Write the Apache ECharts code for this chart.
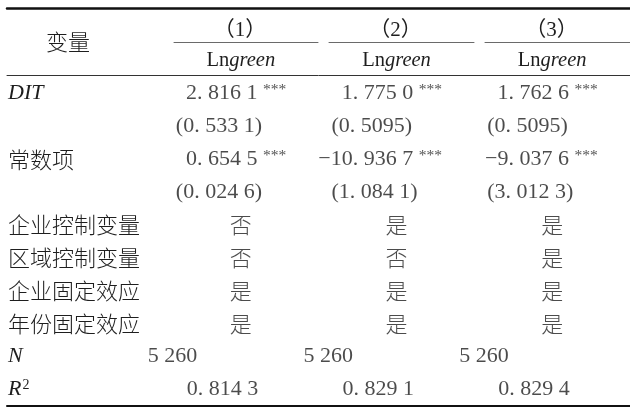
<!DOCTYPE html>
<html>
<head>
<meta charset="utf-8">
<script src="https://cdn.jsdelivr.net/npm/echarts@6/dist/echarts.min.js"></script>
<style>
html,body{margin:0;padding:0;background:#fff;}
#chart{width:630px;height:408px;}
</style>
</head>
<body>
<div id="chart"></div>
<script>
// ---- data ----
const headerLabel = '变量';
const columns = ['（1）', '（2）', '（3）'];
const depVar = ['Lngreen', 'Lngreen', 'Lngreen'];
const rowLabels = ['DIT', '', '常数项', '', '企业控制变量', '区域控制变量', '企业固定效应', '年份固定效应', 'N', 'R2'];
const rowKinds = ['coef', 'se', 'coef', 'se', 'yn', 'yn', 'yn', 'yn', 'n', 'r2'];
const ditCoef = ['2. 816 1', '1. 775 0', '1. 762 6'];
const ditStars = ['***', '***', '***'];
const ditSE = ['0. 533 1', '0. 5095', '0. 5095'];
const constCoef = ['0. 654 5', '−10. 936 7', '−9. 037 6'];
const constStars = ['***', '***', '***'];
const constSE = ['0. 024 6', '1. 084 1', '3. 012 3'];
const firmControls = ['否', '是', '是'];
const regionControls = ['否', '否', '是'];
const firmFE = ['是', '是', '是'];
const yearFE = ['是', '是', '是'];
const nObs = ['5 260', '5 260', '5 260'];
const rSquared = ['0. 814 3', '0. 829 1', '0. 829 4'];

// ---- build ----
const rowValues = [ditCoef, ditSE, constCoef, constSE, firmControls, regionControls, firmFE, yearFE, nObs, rSquared];
const rowStars = {0: ditStars, 2: constStars};
const rowIdx = rowLabels.map((_, i) => String(i));
const colIdx = columns.map((_, i) => String(i));

const SERIF = '"Liberation Serif", "Noto Sans CJK SC", serif';
const INK = '#1e1e1e';
const NUM = 22;
const CJK = 22;

const rich = {
  n: {fontFamily: SERIF, fontSize: NUM, color: INK},
  s: {fontFamily: SERIF, fontSize: 15.5, color: INK, verticalAlign: 'top', lineHeight: 13},
  c: {fontFamily: '"Noto Sans CJK SC", sans-serif', fontSize: CJK, color: INK, fontWeight: 300},
  it: {fontFamily: SERIF, fontSize: NUM, fontStyle: 'italic', color: INK},
  up: {fontFamily: SERIF, fontSize: 20.5, color: INK},
  itg: {fontFamily: SERIF, fontSize: 20.5, fontStyle: 'italic', color: INK},
  sup: {fontFamily: SERIF, fontSize: 14, color: INK, verticalAlign: 'top', lineHeight: 12, padding: [0, 0, 0, 1]}
};

const kindStyle = {
  coef: {align: 'right', offset: [45.5, 0]},
  se: {align: 'left', offset: [-65, 0]},
  yn: {align: 'center', offset: [0, 0]},
  n: {align: 'left', offset: [-93, 0]},
  r2: {align: 'left', offset: [-54, 0]}
};

function cellText(r, c) {
  const kind = rowKinds[r];
  const v = rowValues[r][c];
  if (kind === 'coef') return '{n|' + v + '} {s|' + rowStars[r][c] + '}';
  if (kind === 'se') return '{n|(' + v + ')}';
  if (kind === 'yn') return '{c|' + v + '}';
  return '{n|' + v + '}';
}

const seriesData = [];
rowValues.forEach((vals, r) => {
  vals.forEach((v, c) => {
    const st = kindStyle[rowKinds[r]];
    seriesData.push({
      value: [c, r],
      label: {align: st.align, offset: st.offset, formatter: cellText(r, c)}
    });
  });
});

function rowLabelText(i) {
  const t = rowLabels[i];
  if (t === 'DIT' || t === 'N') return '{it|' + t + '}';
  if (t === 'R2') return '{it|R}{sup|2}';
  return '{c|' + t + '}';
}

const hidden = {show: false};
const colGrids = [
  {left: 174, width: 144, top: 42, height: 33},
  {left: 329, width: 145, top: 42, height: 33},
  {left: 485, right: 0, top: 42, height: 33}
];

const option = {
  backgroundColor: '#fff',
  animation: false,
  grid: [
    {left: 7, right: 0, top: 8.5, height: 66.5},
    colGrids[0], colGrids[1], colGrids[2],
    {left: 7, right: 0, top: 75, height: 331},
    {left: 163, right: 0, top: 77, height: 329}
  ],
  xAxis: [
    {gridIndex: 0, type: 'category', position: 'top', data: [''],
     axisLine: {show: true, lineStyle: {color: '#111', width: 2.5}}, axisTick: hidden, axisLabel: hidden, splitLine: hidden},
    ...columns.map((col, i) => ({
      gridIndex: i + 1, type: 'category', position: 'top', data: [col],
      axisLine: {show: true, lineStyle: {color: '#6a6a6a', width: 1}}, axisTick: hidden, splitLine: hidden,
      axisLabel: {show: true, margin: 12, verticalAlign: 'middle', padding: [0, 12, 0, 0],
        fontFamily: SERIF, fontSize: 21, color: INK}
    })),
    {gridIndex: 4, type: 'category', position: 'top', data: [''],
     axisLine: {show: true, lineStyle: {color: '#333', width: 1}}, axisTick: hidden, axisLabel: hidden, splitLine: hidden},
    {gridIndex: 4, type: 'category', position: 'bottom', data: [''],
     axisLine: {show: true, lineStyle: {color: '#111', width: 2}}, axisTick: hidden, axisLabel: hidden, splitLine: hidden},
    {gridIndex: 5, type: 'category', position: 'top', data: colIdx,
     axisLine: hidden, axisTick: hidden, splitLine: hidden,
     axisLabel: {show: true, margin: 16, verticalAlign: 'middle', padding: [0, 0, 0, 0],
       formatter: (v, i) => '{up|Ln}{itg|' + depVar[i].slice(2) + '}', rich: rich}}
  ],
  yAxis: [
    {gridIndex: 0, type: 'category', data: [headerLabel],
     axisLine: hidden, axisTick: hidden, splitLine: hidden,
     axisLabel: {show: true, inside: true, align: 'left', margin: 39,
       formatter: v => '{c|' + v + '}', rich: rich}},
    {gridIndex: 1, type: 'category', data: [''], show: false},
    {gridIndex: 2, type: 'category', data: [''], show: false},
    {gridIndex: 3, type: 'category', data: [''], show: false},
    {gridIndex: 4, type: 'category', data: rowIdx, inverse: true, show: false},
    {gridIndex: 5, type: 'category', data: rowIdx, inverse: true,
     axisLine: hidden, axisTick: hidden, splitLine: hidden,
     axisLabel: {show: true, inside: false, align: 'left', margin: 155, interval: 0,
       formatter: (v, i) => rowLabelText(i), rich: rich}}
  ],
  series: [{
    type: 'scatter',
    xAxisIndex: 6,
    yAxisIndex: 5,
    symbolSize: 1,
    itemStyle: {color: 'rgba(0,0,0,0)'},
    silent: true,
    label: {show: true, position: 'inside', fontFamily: SERIF, fontSize: NUM, color: INK, rich: rich},
    data: seriesData
  }]
};

const chart = echarts.init(document.getElementById('chart'), null, {renderer: 'canvas'});
chart.setOption(option);
</script>
</body>
</html>
